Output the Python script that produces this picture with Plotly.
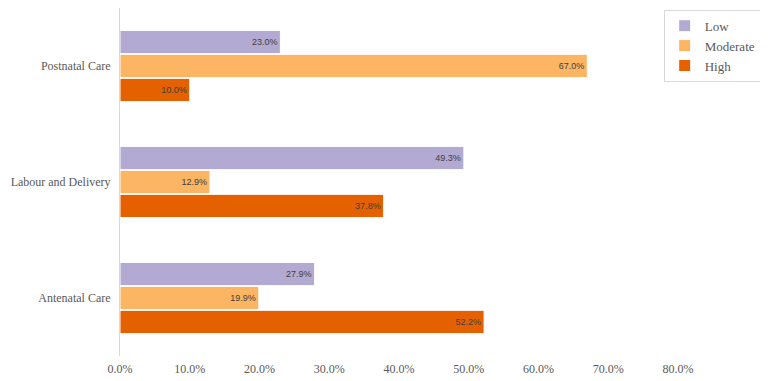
import plotly.graph_objects as go

categories = ["Antenatal Care", "Labour and Delivery", "Postnatal Care"]
low = [27.9, 49.3, 23.0]
moderate = [19.9, 12.9, 67.0]
high = [52.2, 37.8, 10.0]
tick_vals = [0, 10, 20, 30, 40, 50, 60, 70, 80]
tick_text = ["0.0%", "10.0%", "20.0%", "30.0%", "40.0%", "50.0%", "60.0%", "70.0%", "80.0%"]

colors = {"Low": "#b2aad3", "Moderate": "#fbb563", "High": "#e56100"}

fig = go.Figure()
for name, vals in [("High", high), ("Moderate", moderate), ("Low", low)]:
    fig.add_trace(go.Bar(
        name=name, y=categories, x=vals, orientation="h",
        marker=dict(color=colors[name], line=dict(color="white", width=1)),
        text=[f"{v:.1f}%" for v in vals], textposition="inside",
        insidetextanchor="end",
        textfont=dict(family="Liberation Sans, Arial", size=9, color="#404040"),
        cliponaxis=False,
    ))

# page body has an 8px default margin, so the figure is sized to fit the window
fig.update_layout(
    width=760, height=373,
    margin=dict(l=112, r=90, t=0, b=25, autoexpand=False),
    barmode="group", bargap=0.38, bargroupgap=0.03,
    plot_bgcolor="white", paper_bgcolor="white",
    font=dict(family="Liberation Serif, Times New Roman", size=12, color="#595959"),
    legend=dict(
        x=1.15, y=0.995, xanchor="right", yanchor="top",
        traceorder="reversed", bordercolor="#d9d9d9", borderwidth=1,
        font=dict(family="Liberation Serif", size=13, color="#595959"),
        itemwidth=30, tracegroupgap=0,
    ),
    uniformtext=dict(mode="show", minsize=8),
)
fig.update_xaxes(range=[0, 80], tickvals=tick_vals, ticktext=tick_text,
                 showgrid=False, zeroline=False, showline=False, ticks="",
                 automargin=False, ticklabelstandoff=4,
                 tickfont=dict(size=12, color="#595959"))
fig.update_yaxes(showgrid=False, showline=True, linecolor="#d9d9d9", linewidth=1,
                 ticks="", ticklabelstandoff=6, automargin=False,
                 tickfont=dict(size=12, color="#595959"))

fig.write_html("out.html")
